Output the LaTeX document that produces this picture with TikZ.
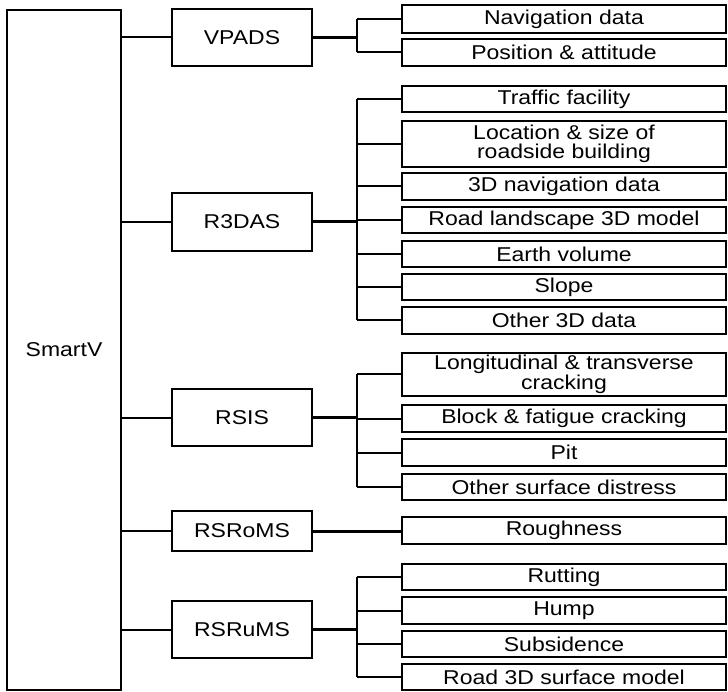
\documentclass[tikz,border=0pt]{standalone}
\usepackage{fontspec}
\setmainfont{Liberation Sans}[FakeStretch=1.15]
\begin{document}
\begin{tikzpicture}[x=1pt,y=-1pt,
  box/.style={draw, line width=2.2pt, rectangle, inner sep=0pt, outer sep=0pt,
    align=center, font=\fontsize{20}{19.5}\selectfont},
  root/.style={box, minimum width=114pt, minimum height=680pt},
  mid/.style={box, minimum width=140pt, minimum height=57pt},
  leaf/.style={box, minimum width=324pt, minimum height=26.5pt},
  link/.style={line width=2pt},
  trunk/.style={line width=3pt}]
\useasboundingbox (0,0) rectangle (728,692);

% root
\node[root] (smartv) at (64,350) {SmartV};

% subsystems
\node[mid] (vpads) at (242,37.5) {VPADS};
\node[mid, minimum height=58pt] (r3das) at (242,222) {R3DAS};
\node[mid] (rsis) at (242,417.5) {RSIS};
\node[mid, minimum height=40pt] (rsroms) at (242,531) {RSRoMS};
\node[mid] (rsrums) at (242,629.5) {RSRuMS};

% outputs
\node[leaf, minimum height=28pt] (nav) at (564,19) {Navigation data};
\node[leaf, minimum height=27pt] (pos) at (564,52.5) {Position \& attitude};

\node[leaf] (traffic) at (564,99) {Traffic facility};
\node[leaf, minimum height=46pt] (loc) at (564,144) {Location \& size of\\roadside building};
\node[leaf] (nav3d) at (564,186.5) {3D navigation data};
\node[leaf] (land) at (564,220) {Road landscape 3D model};
\node[leaf] (earth) at (564,254) {Earth volume};
\node[leaf] (slope) at (564,287) {Slope};
\node[leaf] (other3d) at (564,320.5) {Other 3D data};

\node[leaf, minimum height=43pt] (longi) at (564,374.5) {Longitudinal \& transverse\\cracking};
\node[leaf] (block) at (564,418.5) {Block \& fatigue cracking};
\node[leaf] (pit) at (564,452.5) {Pit};
\node[leaf] (othersurf) at (564,487) {Other surface distress};

\node[leaf] (rough) at (564,530.5) {Roughness};

\node[leaf] (rut) at (564,577) {Rutting};
\node[leaf] (hump) at (564,610.5) {Hump};
\node[leaf] (subs) at (564,644) {Subsidence};
\node[leaf] (surf3d) at (564,677) {Road 3D surface model};

% branch column
\coordinate (jx) at (357,0);

% root to subsystems
\foreach \m in {vpads,r3das,rsis,rsroms,rsrums}
  \draw[link] (smartv.east |- \m.west) -- (\m.west);

% subsystem trunks and their branches
\draw[trunk] (vpads.east) -- (jx |- vpads.east);
\draw[link] (jx |- nav.west) -- (jx |- pos.west);
\foreach \c in {nav,pos} \draw[link] (jx |- \c.west) -- (\c.west);

\draw[trunk] (r3das.east) -- (jx |- r3das.east);
\draw[link] (jx |- traffic.west) -- (jx |- other3d.west);
\foreach \c in {traffic,loc,nav3d,land,earth,slope,other3d} \draw[link] (jx |- \c.west) -- (\c.west);

\draw[trunk] (rsis.east) -- (jx |- rsis.east);
\draw[link] (jx |- longi.west) -- (jx |- othersurf.west);
\foreach \c in {longi,block,pit,othersurf} \draw[link] (jx |- \c.west) -- (\c.west);

\draw[trunk] (rsroms.east) -- (rsroms.east -| rough.west);

\draw[trunk] (rsrums.east) -- (jx |- rsrums.east);
\draw[link] (jx |- rut.west) -- (jx |- surf3d.west);
\foreach \c in {rut,hump,subs,surf3d} \draw[link] (jx |- \c.west) -- (\c.west);
\end{tikzpicture}
\end{document}
